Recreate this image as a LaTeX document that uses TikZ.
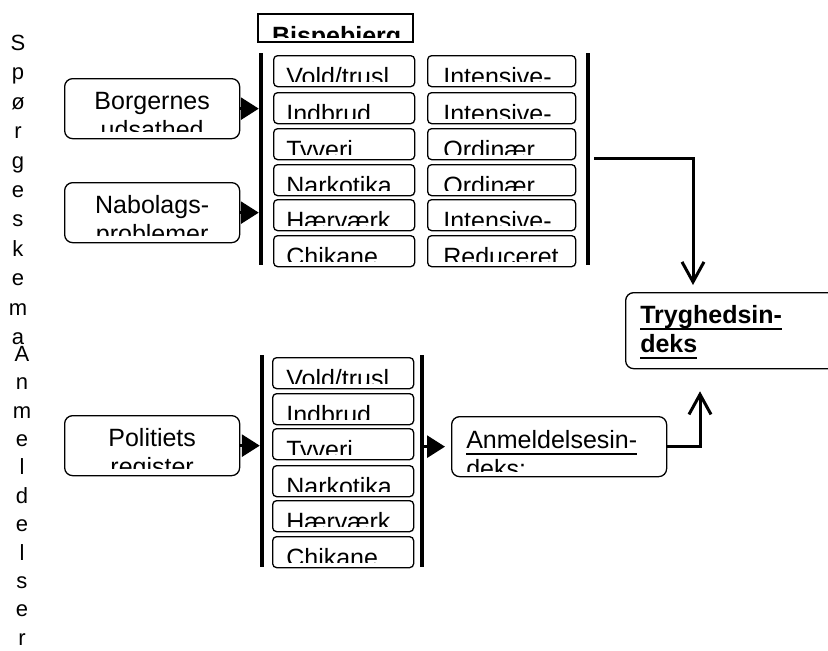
\documentclass[tikz,border=0pt]{standalone}
\usepackage{fontspec}
\setmainfont{Liberation Sans}
\usetikzlibrary{arrows.meta}
\newcommand{\boxfont}{\fontsize{25}{29}\selectfont}
\newcommand{\undertext}[1]{\setbox0\hbox{#1}\rlap{\rule[-6.5pt]{\wd0}{2.5pt}}\box0}
\tikzstyle{cell}=[draw, line width=1.3pt, rounded corners=4pt, anchor=north west, inner sep=0pt, minimum width=141pt, minimum height=31pt]
\tikzstyle{wide cell}=[cell, minimum width=148pt]
\tikzstyle{panel}=[draw, line width=1.3pt, rounded corners=8pt, anchor=north west, inner sep=0pt, minimum width=175pt, minimum height=60pt]
\tikzstyle{bar}=[fill, inner sep=0pt, minimum width=4pt, minimum height=212pt]
\tikzstyle{feed}=[line width=3pt, -{Triangle[length=18pt, width=22pt]}]
\tikzstyle{link}=[line width=3pt, -{Straight Barb[length=20pt, width=22pt]}]
\tikzset{
  base drop/.store in=\basedrop, base drop=30pt,
  left text/.style 2 args={path picture={
    \clip[sharp corners] (path picture bounding box.north west) rectangle ([yshift=5pt]path picture bounding box.south east);
    \node[anchor=base west, inner sep=0pt, minimum size=0pt, draw=none, align=left, font=\boxfont]
      at ([xshift=#1, yshift=-\basedrop]path picture bounding box.north west) {#2};}},
  mid text/.style={path picture={
    \clip[sharp corners] (path picture bounding box.north west) rectangle ([yshift=7pt]path picture bounding box.south east);
    \node[anchor=base, inner sep=0pt, minimum size=0pt, draw=none, align=center, font=\boxfont]
      at ([yshift=-60pt]path picture bounding box.north) {#1};}},
}

\begin{document}
\begin{tikzpicture}[x=1pt, y=-1pt]
  \useasboundingbox (0,0) rectangle (828,651);

  % side headings
  \node[anchor=north, inner sep=0pt, align=center, font=\fontsize{22}{29.4}\selectfont] (survey) at (18,35)
    {S\\p\\ø\\r\\g\\e\\s\\k\\e\\m\\a};
  \node[anchor=north, inner sep=0pt, align=center, font=\fontsize{22}{28.4}\selectfont] (reports) at (22,346)
    {A\\n\\m\\e\\l\\d\\e\\l\\s\\e\\r};

  % survey part
  \node[draw, line width=2pt, anchor=north west, inner sep=0pt, minimum width=155pt, minimum height=28pt,
    left text={13pt}{\textbf{Bispebjerg}}] (area) at (257,13) {};
  \node[panel, mid text={Borgernes\\udsathed}] (borg) at (64,78) {};
  \node[panel, mid text={Nabolags-\\problemer}] (nabo) at (64,182) {};
  \node[bar] (barA) at (261,159) {};
  \node[bar] (barB) at (588,158.5) {};

  \node[cell, left text={12pt}{Vold/trusl}] (crimeA1) at (273,55) {};
  \node[cell, left text={12pt}{Indbrud}] (crimeA2) at (273,92) {};
  \node[cell, left text={12pt}{Tyveri}] (crimeA3) at (273,128) {};
  \node[cell, left text={12pt}{Narkotika}] (crimeA4) at (273,164) {};
  \node[cell, left text={12pt}{Hærværk}] (crimeA5) at (273,199) {};
  \node[cell, left text={12pt}{Chikane}] (crimeA6) at (273,235) {};

  \node[wide cell, left text={15pt}{Intensive-}] (effort1) at (427,55) {};
  \node[wide cell, left text={15pt}{Intensive-}] (effort2) at (427,92) {};
  \node[wide cell, left text={15pt}{Ordinær}] (effort3) at (427,128) {};
  \node[wide cell, left text={15pt}{Ordinær}] (effort4) at (427,164) {};
  \node[wide cell, left text={15pt}{Intensive-}] (effort5) at (427,199) {};
  \node[wide cell, left text={15pt}{Reduceret}] (effort6) at (427,235) {};

  \draw[feed] (borg.east) -- (borg.east -| barA.west);
  \draw[feed] (nabo.east) -- (nabo.east -| barA.west);

  % police part
  \node[panel, mid text={Politiets\\register}] (politi) at (64,415) {};
  \node[bar] (barC) at (262,461) {};
  \node[bar] (barD) at (422,461) {};

  \node[cell, left text={13pt}{Vold/trusl}] (crimeB1) at (272,357) {};
  \node[cell, left text={13pt}{Indbrud}] (crimeB2) at (272,393) {};
  \node[cell, left text={13pt}{Tyveri}] (crimeB3) at (272,428) {};
  \node[cell, left text={13pt}{Narkotika}] (crimeB4) at (272,465) {};
  \node[cell, left text={13pt}{Hærværk}] (crimeB5) at (272,500) {};
  \node[cell, left text={13pt}{Chikane}] (crimeB6) at (272,536) {};

  \node[panel, minimum width=215pt, base drop=61pt,
    left text={14pt}{\undertext{Anmeldelsesin-}\\\undertext{deks:}}] (anm) at (451,416) {};
  \draw[feed] (politi.east) -- (politi.east -| barC.west);
  \draw[feed] (barD.east |- anm.west) -- ([xshift=-6pt]anm.west);

  % index
  \node[panel, minimum width=240pt, minimum height=76pt, base drop=60pt,
    left text={14pt}{\undertext{\textbf{Tryghedsin-}}\\\undertext{\textbf{deks}}}] (trygh) at (625,292) {};
  \draw[link, shorten >=7pt] ([xshift=4pt]barB.east) -| ([xshift=68pt]trygh.north west);
  \draw[link, shorten >=22pt] (anm.east) -| ([xshift=75pt]trygh.south west);
\end{tikzpicture}
\end{document}
